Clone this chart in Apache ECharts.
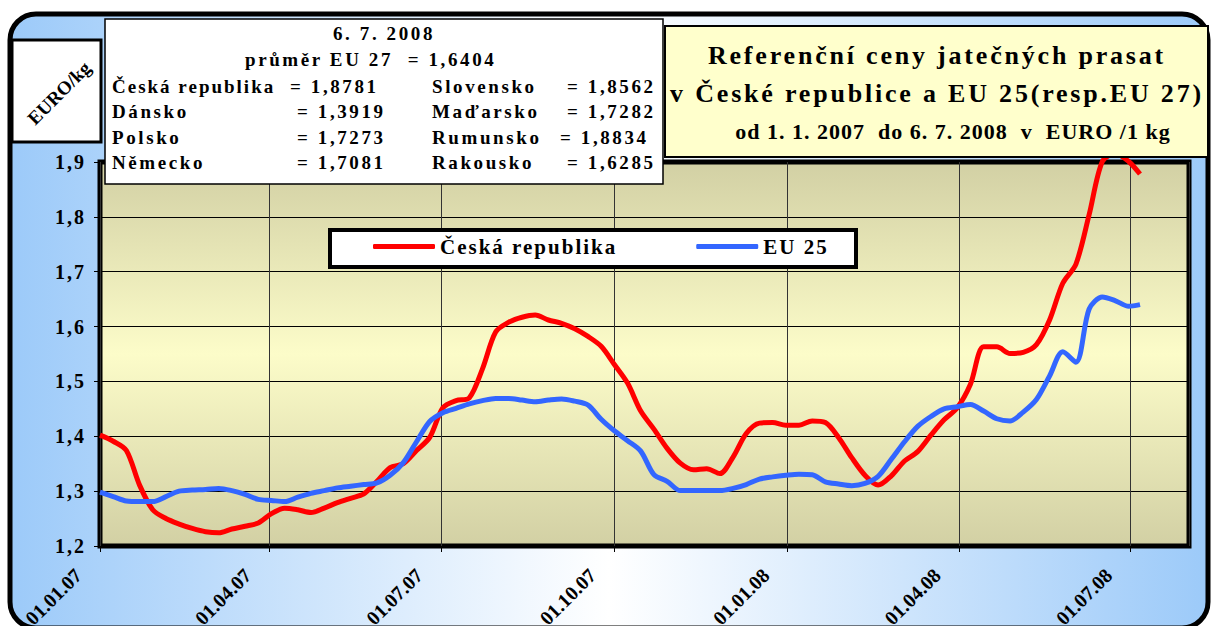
<!DOCTYPE html>
<html>
<head>
<meta charset="utf-8">
<script src="https://cdn.jsdelivr.net/npm/echarts@6/dist/echarts.min.js"></script>
<style>
  html, body { margin: 0; padding: 0; background: #fff; }
  #chart { width: 1214px; height: 626px; }
</style>
</head>
<body>
<div id="chart"></div>
<script>
const FONT = '"Liberation Serif", "Times New Roman", serif';

// weekly quotes, Mondays from 1. 1. 2007, last one on 6. 7. 2008
const weekDates = [];
for (let k = 0; k < 79; k++) weekDates.push(new Date(2007, 0, 1 + 7 * k).getTime());
weekDates.push(new Date(2008, 6, 6).getTime());

const czValues = [
  1.402, 1.391, 1.374, 1.311, 1.266, 1.250, 1.240, 1.232, 1.226, 1.224,
  1.231, 1.236, 1.242, 1.259, 1.269, 1.266, 1.261, 1.269, 1.279, 1.287,
  1.295, 1.318, 1.343, 1.350, 1.374, 1.398, 1.452, 1.465, 1.470, 1.523,
  1.590, 1.608, 1.617, 1.621, 1.612, 1.606, 1.596, 1.582, 1.564, 1.531,
  1.497, 1.446, 1.413, 1.378, 1.351, 1.339, 1.341, 1.332, 1.362, 1.405,
  1.424, 1.425, 1.420, 1.420, 1.428, 1.425, 1.398, 1.361, 1.329, 1.311,
  1.328, 1.355, 1.372, 1.402, 1.430, 1.452, 1.495, 1.563, 1.563, 1.551,
  1.553, 1.567, 1.612, 1.679, 1.714, 1.804, 1.901, 1.915, 1.901, 1.878
];

const euValues = [
  1.298, 1.290, 1.282, 1.281, 1.281, 1.290, 1.300, 1.302, 1.303, 1.305,
  1.301, 1.294, 1.285, 1.283, 1.281, 1.289, 1.296, 1.301, 1.306, 1.309,
  1.312, 1.315, 1.329, 1.352, 1.390, 1.427, 1.443, 1.451, 1.459, 1.465,
  1.469, 1.469, 1.466, 1.463, 1.466, 1.468, 1.464, 1.457, 1.431, 1.410,
  1.392, 1.373, 1.330, 1.318, 1.301, 1.301, 1.301, 1.301, 1.305, 1.312,
  1.322, 1.326, 1.329, 1.331, 1.330, 1.317, 1.313, 1.310, 1.314, 1.327,
  1.358, 1.390, 1.418, 1.436, 1.450, 1.454, 1.458, 1.446, 1.432, 1.428,
  1.444, 1.467, 1.510, 1.554, 1.535, 1.632, 1.654, 1.647, 1.637, 1.640
];

const seriesNames = ['Česká republika', 'EU 25'];

const titleLines = [
  'Referenční ceny jatečných prasat',
  'v České republice a EU 25(resp.EU 27)',
  'od 1. 1. 2007  do 6. 7. 2008  v  EURO /1 kg'
];

const infoHead = ['6. 7. 2008', 'průměr EU 27  = 1,6404'];
const infoLeft = [
  ['Česká republika', '= 1,8781'],
  ['Dánsko', '= 1,3919'],
  ['Polsko', '= 1,7273'],
  ['Německo', '= 1,7081']
];
const infoRight = [
  ['Slovensko', '= 1,8562'],
  ['Maďarsko', '= 1,7282'],
  ['Rumunsko', '= 1,8834'],
  ['Rakousko', '= 1,6285']
];

const fmtY = (v) => v.toFixed(1).replace('.', ',');

// the source chart uses wide letter spacing in most of its captions
const spacing = new Map();
titleLines.forEach((t, i) => spacing.set(t, i < 2 ? 2.8 : 1));
infoHead.concat(...infoLeft, ...infoRight).forEach((t) => spacing.set(t, 2.6));
spacing.set(infoLeft[0][0], 3.1);
seriesNames.forEach((t) => spacing.set(t, 2));
[1.2, 1.3, 1.4, 1.5, 1.6, 1.7, 1.8, 1.9].forEach((v) => spacing.set(fmtY(v), 2));

const bold = (size) => 'bold ' + size + 'px ' + FONT;

const txt = (text, x, y, size, align, extra) => Object.assign({
  type: 'text', x, y, z: 12,
  style: { text, font: bold(size), fill: '#000', align: align || 'left', verticalAlign: 'middle' }
}, extra || {});

const pad2 = (n) => (n < 10 ? '0' : '') + n;

const graphics = [
  {
    type: 'rect', z: -10, silent: true,
    shape: { x: 10, y: 14, width: 1198, height: 614, r: 26 },
    style: {
      fill: new echarts.graphic.LinearGradient(0, 0, 1, 0, [
        { offset: 0, color: '#9ccaf9' },
        { offset: 0.5, color: '#ffffff' },
        { offset: 1, color: '#9ccaf9' }
      ]),
      stroke: '#000', lineWidth: 5
    }
  },
  // unit box
  { type: 'rect', z: 10, shape: { x: 12, y: 40, width: 89, height: 102 },
    style: { fill: '#fff', stroke: '#000', lineWidth: 3 } },
  txt('EURO/kg', 59, 93, 19, 'center', { rotation: Math.PI / 4 }),
  // info box
  { type: 'rect', z: 10, shape: { x: 105, y: 19, width: 558, height: 165 },
    style: { fill: '#fff', stroke: '#000', lineWidth: 1.5 } },
  txt(infoHead[0], 384, 33, 19, 'center'),
  txt(infoHead[1], 245, 59, 19),
  // title box
  { type: 'rect', z: 10, shape: { x: 665, y: 26, width: 543, height: 131 },
    style: { fill: '#ffffcc', stroke: '#000', lineWidth: 2 } },
  txt(titleLines[0], 937, 55, 26, 'center'),
  txt(titleLines[1], 937, 93, 26, 'center'),
  txt(titleLines[2], 953, 131, 22, 'center'),
  // legend frame
  { type: 'rect', z: 15, shape: { x: 330, y: 230, width: 526, height: 37 },
    style: { fill: '#fff', stroke: '#000', lineWidth: 4 } }
];

const rowY = [86, 111.5, 137, 162.5];
infoLeft.forEach((r, i) => {
  graphics.push(txt(r[0], 112, rowY[i], 19));
  graphics.push(txt(r[1], i === 0 ? 290 : 297, rowY[i], 19));
});
infoRight.forEach((r, i) => {
  graphics.push(txt(r[0], 432, rowY[i], 19));
  graphics.push(txt(r[1], i === 2 ? 560 : 567, rowY[i], 19));
});

const chart = echarts.init(document.getElementById('chart'), null, { renderer: 'svg' });

chart.setOption({
  animation: false,
  textStyle: { fontFamily: FONT },
  graphic: graphics,
  legend: {
    data: seriesNames,
    left: 373, top: 236, padding: 0,
    itemWidth: 62, itemHeight: 5, itemGap: 109,
    icon: 'roundRect',
    z: 20,
    textStyle: { fontFamily: FONT, fontWeight: 'bold', fontSize: 21, color: '#000' }
  },
  grid: {
    left: 100, right: 25, top: 162, bottom: 80,
    outerBoundsMode: 'none',
    show: true,
    backgroundColor: new echarts.graphic.LinearGradient(0, 0, 0, 1, [
      { offset: 0, color: '#d2d0a4' },
      { offset: 0.5, color: '#fcfcc9' },
      { offset: 1, color: '#d2d0a4' }
    ]),
    borderColor: '#000',
    borderWidth: 5
  },
  xAxis: {
    type: 'time',
    min: new Date(2007, 0, 1).getTime(),
    max: new Date(2008, 7, 1).getTime(),
    minInterval: 91 * 864e5,
    maxInterval: 91 * 864e5,
    axisLine: { show: false },
    axisTick: { show: true, length: 6, lineStyle: { color: '#000', width: 1 } },
    splitLine: { show: true, lineStyle: { color: '#333', width: 1 } },
    axisLabel: {
      rotate: 45, margin: 4, padding: [0, 31, 0, 0],
      fontFamily: FONT, fontWeight: 'bold', fontSize: 20, color: '#000',
      showMaxLabel: false, hideOverlap: false,
      formatter: (v) => {
        const d = new Date(v);
        if (d.getDate() !== 1 || d.getMonth() % 3 !== 0) return '';
        return pad2(d.getDate()) + '.' + pad2(d.getMonth() + 1) + '.' + pad2(d.getFullYear() % 100);
      }
    }
  },
  yAxis: {
    type: 'value',
    min: 1.2, max: 1.9, interval: 0.1,
    axisLine: { show: false },
    axisTick: { show: true, length: 6, lineStyle: { color: '#000', width: 1 } },
    splitLine: { show: true, lineStyle: { color: '#000', width: 1 } },
    axisLabel: {
      margin: 14,
      fontFamily: FONT, fontWeight: 'bold', fontSize: 20, color: '#000',
      formatter: fmtY
    }
  },
  series: [
    {
      name: seriesNames[0], type: 'line',
      data: weekDates.map((d, i) => [d, czValues[i]]),
      symbol: 'none', smooth: 0.3, clip: false,
      lineStyle: { color: '#ff0000', width: 5 },
      itemStyle: { color: '#ff0000' }
    },
    {
      name: seriesNames[1], type: 'line',
      data: weekDates.map((d, i) => [d, euValues[i]]),
      symbol: 'none', smooth: 0.3, clip: false,
      lineStyle: { color: '#3366ff', width: 5 },
      itemStyle: { color: '#3366ff' }
    }
  ]
});

chart.getDom().querySelectorAll('text').forEach((el) => {
  const s = spacing.get(el.textContent);
  if (s) el.setAttribute('letter-spacing', s);
});
</script>
</body>
</html>
